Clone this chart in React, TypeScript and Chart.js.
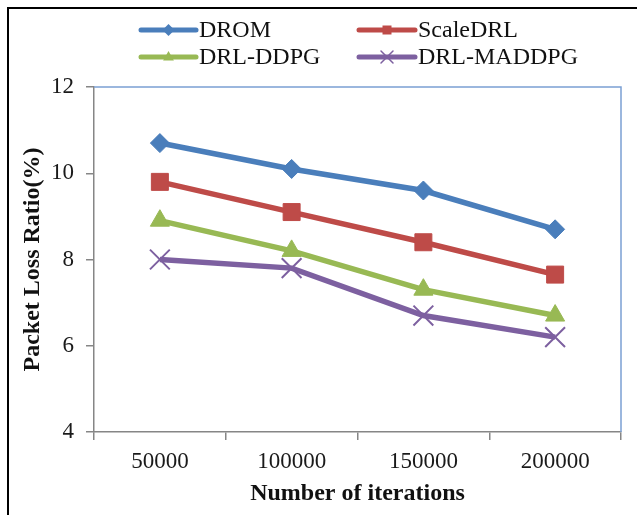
import React, { useEffect, useRef } from "react";
import { Chart, registerables } from "chart.js";

Chart.register(...registerables);

const categories = ["50000", "100000", "150000", "200000"];
const seriesNames = ["DROM", "ScaleDRL", "DRL-DDPG", "DRL-MADDPG"];
const dromValues = [10.7, 10.1, 9.6, 8.7];
const scaleDrlValues = [9.8, 9.1, 8.4, 7.65];
const ddpgValues = [8.9, 8.2, 7.3, 6.7];
const maddpgValues = [8.0, 7.8, 6.7, 6.2];
const yMin = 4;
const yMax = 12;
const yStep = 2;

const seriesColors = ["#4a7ebb", "#be4b48", "#98b954", "#7d60a0"];
const seriesStyles = ["rectRot", "rect", "triangle", "crossRot"];
const FONT = '"Liberation Serif", "Times New Roman", serif';

function drawMarker(ctx: CanvasRenderingContext2D, style: string, x: number, y: number, r: number, color: string) {
  ctx.save();
  ctx.fillStyle = color;
  ctx.strokeStyle = color;
  ctx.beginPath();
  if (style === "rectRot") {
    ctx.moveTo(x, y - r);
    ctx.lineTo(x + r, y);
    ctx.lineTo(x, y + r);
    ctx.lineTo(x - r, y);
    ctx.closePath();
    ctx.fill();
  } else if (style === "rect") {
    ctx.rect(x - r, y - r, 2 * r, 2 * r);
    ctx.fill();
  } else if (style === "triangle") {
    ctx.moveTo(x, y - r);
    ctx.lineTo(x + r * 0.9, y + r * 0.6);
    ctx.lineTo(x - r * 0.9, y + r * 0.6);
    ctx.closePath();
    ctx.fill();
  } else {
    ctx.lineWidth = 1.5;
    ctx.moveTo(x - r, y - r);
    ctx.lineTo(x + r, y + r);
    ctx.moveTo(x + r, y - r);
    ctx.lineTo(x - r, y + r);
    ctx.stroke();
  }
  ctx.restore();
}

const framePlugin = {
  id: "frame",
  beforeDraw(chart: any) {
    const { ctx, width, height } = chart;
    ctx.save();
    ctx.fillStyle = "#ffffff";
    ctx.fillRect(0, 0, width, height);
    ctx.strokeStyle = "#000000";
    ctx.lineWidth = 2;
    ctx.beginPath();
    ctx.moveTo(8, height);
    ctx.lineTo(8, 8);
    ctx.lineTo(width, 8);
    ctx.stroke();
    ctx.restore();
  },
  beforeDatasetsDraw(chart: any) {
    const { ctx, chartArea } = chart;
    ctx.save();
    ctx.strokeStyle = "#7ba0d4";
    ctx.lineWidth = 1.5;
    ctx.beginPath();
    ctx.moveTo(chartArea.left, chartArea.top);
    ctx.lineTo(chartArea.right, chartArea.top);
    ctx.lineTo(chartArea.right, chartArea.bottom);
    ctx.stroke();
    ctx.restore();
  },
  afterDraw(chart: any) {
    const ctx = chart.ctx as CanvasRenderingContext2D;
    const cols = [
      { x0: 141, x1: 196, tx: 199 },
      { x0: 359, x1: 415, tx: 418 },
    ];
    const rows = [30, 57];
    chart.data.datasets.forEach((ds: any, i: number) => {
      const c = cols[i % 2];
      const y = rows[Math.floor(i / 2)];
      ctx.save();
      ctx.strokeStyle = ds.borderColor;
      ctx.lineWidth = 5;
      ctx.lineCap = "round";
      ctx.beginPath();
      ctx.moveTo(c.x0, y);
      ctx.lineTo(c.x1, y);
      ctx.stroke();
      const mid = (c.x0 + c.x1) / 2;
      const sizes: Record<string, number> = { rectRot: 6, rect: 4.5, triangle: 6, crossRot: 6 };
      drawMarker(ctx, seriesStyles[i], mid, y, sizes[seriesStyles[i]], ds.borderColor);
      ctx.fillStyle = "#111111";
      ctx.font = `24px ${FONT}`;
      ctx.textBaseline = "middle";
      ctx.textAlign = "left";
      ctx.fillText(ds.label, c.tx, y + 1);
      ctx.restore();
    });
  },
};

export default function App() {
  const canvasRef = useRef<HTMLCanvasElement | null>(null);

  useEffect(() => {
    if (!canvasRef.current) return;
    const valueSets = [dromValues, scaleDrlValues, ddpgValues, maddpgValues];
    const radii = [9.5, 12, 11, 14];
    const chart = new Chart(canvasRef.current, {
      type: "line",
      data: {
        labels: categories,
        datasets: valueSets.map((vals, i) => ({
          label: seriesNames[i],
          data: vals,
          borderColor: seriesColors[i],
          backgroundColor: seriesColors[i],
          borderWidth: 5.5,
          pointStyle: seriesStyles[i] as any,
          pointRadius: radii[i],
          pointBorderWidth: i === 3 ? 2 : 1,
          pointBackgroundColor: seriesColors[i],
          pointBorderColor: seriesColors[i],
          tension: 0,
          clip: false as any,
        })),
      },
      options: {
        responsive: false,
        animation: false,
        events: [],
        layout: { padding: { top: 87, right: 16, left: 0, bottom: 0 } },
        plugins: {
          legend: { display: false },
          tooltip: { enabled: false },
        },
        scales: {
          x: {
            type: "category",
            offset: true,
            afterFit: (s: any) => {
              s.height = 83;
            },
            grid: {
              offset: true,
              drawOnChartArea: false,
              drawTicks: true,
              tickLength: 8,
              color: "#868686",
              lineWidth: 1.5,
            },
            border: { color: "#868686", width: 1.5 },
            ticks: {
              color: "#1a1a1a",
              padding: 8,
              maxRotation: 0,
              font: { family: FONT, size: 23 },
            },
            title: {
              display: true,
              text: "Number of iterations",
              color: "#111111",
              padding: { top: 0, bottom: 7 },
              font: { family: FONT, size: 24, weight: "bold" },
            },
          },
          y: {
            min: yMin,
            max: yMax,
            afterFit: (s: any) => {
              s.width = 94;
            },
            grid: {
              drawOnChartArea: false,
              drawTicks: true,
              tickLength: 8,
              color: "#868686",
              lineWidth: 1.5,
            },
            border: { color: "#868686", width: 1.5 },
            ticks: {
              stepSize: yStep,
              color: "#1a1a1a",
              padding: 12,
              font: { family: FONT, size: 23 },
            },
            title: {
              display: true,
              text: "Packet Loss Ratio(%)",
              color: "#111111",
              padding: { top: 18, bottom: 0 },
              font: { family: FONT, size: 24, weight: "bold" },
            },
          },
        },
      },
      plugins: [framePlugin],
    });
    return () => chart.destroy();
  }, []);

  return (
    <div style={{ position: "absolute", left: 0, top: 0, width: 637, height: 515, overflow: "hidden" }}>
      <canvas ref={canvasRef} width={637} height={515} style={{ display: "block", width: 637, height: 515 }} />
    </div>
  );
}
